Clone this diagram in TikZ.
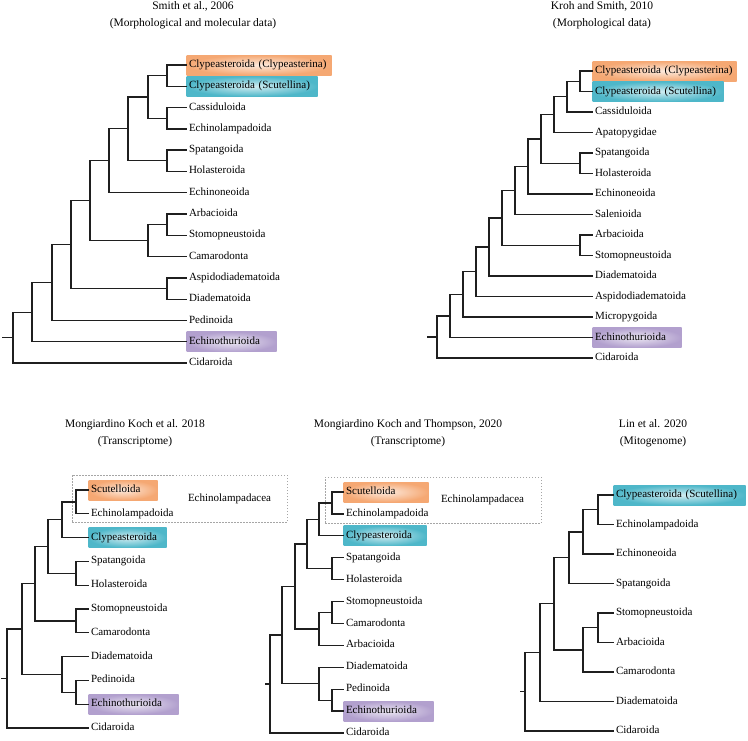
\documentclass[tikz,border=0pt]{standalone}
\usepackage{fontspec}
\setmainfont{Liberation Serif}
\usepackage{xcolor}

\definecolor{clypOrange}{RGB}{245,168,115}
\definecolor{scutBlue}{RGB}{78,183,201}
\definecolor{echiPurple}{RGB}{178,160,206}

\begin{document}
\begin{tikzpicture}[
        x=1pt, y=-1pt,
        leaf/.style={anchor=west, inner xsep=2.5pt, inner ysep=0pt, outer sep=0pt, text height=7.5pt, text depth=2.5pt, font=\fontsize{11}{13}\selectfont},
        hl/.style 2 args={leaf, inner color=#1!25!white, outer color=#1, minimum height=20pt, text width=#2, align=left},
        branch/.style={draw=black!88, line width=1.25pt},
        title/.style={align=center, font=\fontsize{11.5}{16.5}\selectfont},
        clade/.style={draw=gray!70, dash pattern=on 1.5pt off 1.5pt, line width=0.5pt, inner sep=0pt},
    ]
    \useasboundingbox (0,0) rectangle (748,740);
    % Smith et al., 2006
    \node[title] (Atitle) at (193,15) {Smith et al., 2006\\(Morphological and molecular data)};
    \node[hl={clypOrange}{140pt}] (Aclyp) at (186.5,65.0) {\mbox{Clypeasteroida (Clypeasterina)}};
    \node[hl={scutBlue}{126pt}] (Ascut) at (186.5,86.3) {\mbox{Clypeasteroida (Scutellina)}};
    \node[leaf] (Acass) at (186.5,107.6) {Cassiduloida};
    \node[leaf] (Aechl) at (186.5,128.9) {Echinolampadoida};
    \node[leaf] (Aspat) at (186.5,150.1) {Spatangoida};
    \node[leaf] (Ahol) at (186.5,171.4) {Holasteroida};
    \node[leaf] (Aechn) at (186.5,192.7) {Echinoneoida};
    \node[leaf] (Aarb) at (186.5,214.0) {Arbacioida};
    \node[leaf] (Astom) at (186.5,235.3) {Stomopneustoida};
    \node[leaf] (Acam) at (186.5,256.6) {Camarodonta};
    \node[leaf] (Aasp) at (186.5,277.9) {Aspidodiadematoida};
    \node[leaf] (Adia) at (186.5,299.2) {Diadematoida};
    \node[leaf] (Aped) at (186.5,320.5) {Pedinoida};
    \node[hl={echiPurple}{85pt}] (Aecht) at (186.5,341.8) {Echinothurioida};
    \node[leaf] (Acid) at (186.5,363.0) {Cidaroida};
    \coordinate (A1) at (167,75.6); \coordinate (A2) at (167,118.3); \coordinate (A3) at (148,96.9);
    \coordinate (A4) at (167,160.8); \coordinate (A5) at (128,128.8); \coordinate (A6) at (109,160.8);
    \coordinate (A7) at (167,224.6); \coordinate (A8) at (148,240.6); \coordinate (A9) at (90,200.7);
    \coordinate (A10) at (167,288.6); \coordinate (A11) at (71,244.6); \coordinate (A12) at (52,282.6);
    \coordinate (A13) at (32,312.2); \coordinate (A14) at (13,337.6); \coordinate (A0) at (2,337.6);
    \draw[branch] (A1) |- (Aclyp); \draw[branch] (A1) |- (Ascut);
    \draw[branch] (A2) |- (Acass); \draw[branch] (A2) |- (Aechl);
    \draw[branch] (A3) |- (A1); \draw[branch] (A3) |- (A2);
    \draw[branch] (A4) |- (Aspat); \draw[branch] (A4) |- (Ahol);
    \draw[branch] (A5) |- (A3); \draw[branch] (A5) |- (A4);
    \draw[branch] (A6) |- (A5); \draw[branch] (A6) |- (Aechn);
    \draw[branch] (A7) |- (Aarb); \draw[branch] (A7) |- (Astom);
    \draw[branch] (A8) |- (A7); \draw[branch] (A8) |- (Acam);
    \draw[branch] (A9) |- (A6); \draw[branch] (A9) |- (A8);
    \draw[branch] (A10) |- (Aasp); \draw[branch] (A10) |- (Adia);
    \draw[branch] (A11) |- (A9); \draw[branch] (A11) |- (A10);
    \draw[branch] (A12) |- (A11); \draw[branch] (A12) |- (Aped);
    \draw[branch] (A13) |- (A12); \draw[branch] (A13) |- (Aecht);
    \draw[branch] (A14) |- (A13); \draw[branch] (A14) |- (Acid);
    \draw[branch] (A0) -- (A14);

    % Kroh and Smith, 2010
    \node[title] (Btitle) at (602,15) {Kroh and Smith, 2010\\(Morphological data)};
    \node[hl={clypOrange}{139pt}] (Bclyp) at (592.5,71.0) {\mbox{Clypeasteroida (Clypeasterina)}};
    \node[hl={scutBlue}{126pt}] (Bscut) at (592.5,91.5) {\mbox{Clypeasteroida (Scutellina)}};
    \node[leaf] (Bcass) at (592.5,112.0) {Cassiduloida};
    \node[leaf] (Bapat) at (592.5,132.5) {Apatopygidae};
    \node[leaf] (Bspat) at (592.5,153.0) {Spatangoida};
    \node[leaf] (Bhol) at (592.5,173.5) {Holasteroida};
    \node[leaf] (Bechn) at (592.5,194.0) {Echinoneoida};
    \node[leaf] (Bsal) at (592.5,214.5) {Salenioida};
    \node[leaf] (Barb) at (592.5,235.0) {Arbacioida};
    \node[leaf] (Bstom) at (592.5,255.5) {Stomopneustoida};
    \node[leaf] (Bdia) at (592.5,276.0) {Diadematoida};
    \node[leaf] (Basp) at (592.5,296.5) {Aspidodiadematoida};
    \node[leaf] (Bmic) at (592.5,317.0) {Micropygoida};
    \node[hl={echiPurple}{84pt}] (Becht) at (592.5,337.5) {Echinothurioida};
    \node[leaf] (Bcid) at (592.5,358.0) {Cidaroida};
    \coordinate (B1) at (580,81.25); \coordinate (B2) at (567,96.6); \coordinate (B3) at (554,114.6);
    \coordinate (B4) at (580,163.25); \coordinate (B5) at (541,138.9); \coordinate (B6) at (528,166.5);
    \coordinate (B7) at (515,190.5); \coordinate (B8) at (580,245.25); \coordinate (B9) at (502,217.9);
    \coordinate (B10) at (489,246.9); \coordinate (B11) at (476,271.7); \coordinate (B12) at (463,294.4);
    \coordinate (B13) at (450,315.9); \coordinate (B14) at (437,337.0); \coordinate (B0) at (427,337.0);
    \draw[branch] (B1) |- (Bclyp); \draw[branch] (B1) |- (Bscut);
    \draw[branch] (B2) |- (B1); \draw[branch] (B2) |- (Bcass);
    \draw[branch] (B3) |- (B2); \draw[branch] (B3) |- (Bapat);
    \draw[branch] (B4) |- (Bspat); \draw[branch] (B4) |- (Bhol);
    \draw[branch] (B5) |- (B3); \draw[branch] (B5) |- (B4);
    \draw[branch] (B6) |- (B5); \draw[branch] (B6) |- (Bechn);
    \draw[branch] (B7) |- (B6); \draw[branch] (B7) |- (Bsal);
    \draw[branch] (B8) |- (Barb); \draw[branch] (B8) |- (Bstom);
    \draw[branch] (B9) |- (B7); \draw[branch] (B9) |- (B8);
    \draw[branch] (B10) |- (B9); \draw[branch] (B10) |- (Bdia);
    \draw[branch] (B11) |- (B10); \draw[branch] (B11) |- (Basp);
    \draw[branch] (B12) |- (B11); \draw[branch] (B12) |- (Bmic);
    \draw[branch] (B13) |- (B12); \draw[branch] (B13) |- (Becht);
    \draw[branch] (B14) |- (B13); \draw[branch] (B14) |- (Bcid);
    \draw[branch] (B0) -- (B14);

    % Mongiardino Koch et al. 2018
    \node[title] (Ctitle) at (135,433) {Mongiardino Koch et al. 2018\\(Transcriptome)};
    \node[clade, minimum width=215pt, minimum height=47pt] (Cbox) at (179.5,498.5) {};
    \node[leaf] (Clab) at (185.5,499) {Echinolampadacea};
    \node[hl={clypOrange}{64pt}] (Cscu) at (88.5,490.0) {Scutelloida};
    \node[leaf] (Cechl) at (88.5,513.8) {Echinolampadoida};
    \node[hl={scutBlue}{73pt}] (Cclyp) at (88.5,537.6) {Clypeasteroida};
    \node[leaf] (Cspat) at (88.5,561.4) {Spatangoida};
    \node[leaf] (Chol) at (88.5,585.2) {Holasteroida};
    \node[leaf] (Cstom) at (88.5,609.0) {Stomopneustoida};
    \node[leaf] (Ccam) at (88.5,632.8) {Camarodonta};
    \node[leaf] (Cdia) at (88.5,656.6) {Diadematoida};
    \node[leaf] (Cped) at (88.5,680.4) {Pedinoida};
    \node[hl={echiPurple}{85pt}] (Cecht) at (88.5,704.2) {Echinothurioida};
    \node[leaf] (Ccid) at (88.5,728.0) {Cidaroida};
    \coordinate (C1) at (76,501.9); \coordinate (C2) at (62,519.75); \coordinate (C3) at (76,573.3);
    \coordinate (C4) at (48,546.5); \coordinate (C5) at (76,620.9); \coordinate (C6) at (35,583.7);
    \coordinate (C7) at (76,692.3); \coordinate (C8) at (62,674.5); \coordinate (C9) at (22,629.1);
    \coordinate (C10) at (7,678.5); \coordinate (C0) at (1,678.5);
    \draw[branch] (C1) |- (Cscu); \draw[branch] (C1) |- (Cechl);
    \draw[branch] (C2) |- (C1); \draw[branch] (C2) |- (Cclyp);
    \draw[branch] (C3) |- (Cspat); \draw[branch] (C3) |- (Chol);
    \draw[branch] (C4) |- (C2); \draw[branch] (C4) |- (C3);
    \draw[branch] (C5) |- (Cstom); \draw[branch] (C5) |- (Ccam);
    \draw[branch] (C6) |- (C4); \draw[branch] (C6) |- (C5);
    \draw[branch] (C7) |- (Cped); \draw[branch] (C7) |- (Cecht);
    \draw[branch] (C8) |- (Cdia); \draw[branch] (C8) |- (C7);
    \draw[branch] (C9) |- (C6); \draw[branch] (C9) |- (C8);
    \draw[branch] (C10) |- (C9); \draw[branch] (C10) |- (Ccid);
    \draw[branch] (C0) -- (C10);

    % Mongiardino Koch and Thompson, 2020
    \node[title] (Dtitle) at (408,433) {Mongiardino Koch and Thompson, 2020\\(Transcriptome)};
    \node[clade, minimum width=216pt, minimum height=46pt] (Dbox) at (433,500) {};
    \node[leaf] (Dlab) at (438.5,500) {Echinolampadacea};
    \node[hl={clypOrange}{80pt}] (Dscu) at (343.5,492.0) {Scutelloida};
    \node[leaf] (Dechl) at (343.5,513.9) {Echinolampadoida};
    \node[hl={scutBlue}{78pt}] (Dclyp) at (343.5,535.8) {Clypeasteroida};
    \node[leaf] (Dspat) at (343.5,557.7) {Spatangoida};
    \node[leaf] (Dhol) at (343.5,579.6) {Holasteroida};
    \node[leaf] (Dstom) at (343.5,601.5) {Stomopneustoida};
    \node[leaf] (Dcam) at (343.5,623.5) {Camarodonta};
    \node[leaf] (Darb) at (343.5,645.4) {Arbacioida};
    \node[leaf] (Ddia) at (343.5,667.3) {Diadematoida};
    \node[leaf] (Dped) at (343.5,689.2) {Pedinoida};
    \node[hl={echiPurple}{85pt}] (Decht) at (343.5,711.1) {Echinothurioida};
    \node[leaf] (Dcid) at (343.5,733.0) {Cidaroida};
    \coordinate (D1) at (332,503); \coordinate (D2) at (319,519.4); \coordinate (D3) at (332,568.7);
    \coordinate (D4) at (307,544); \coordinate (D5) at (332,612.5); \coordinate (D6) at (319,628.9);
    \coordinate (D7) at (295,586.5); \coordinate (D8) at (332,700.2); \coordinate (D9) at (319,683.7);
    \coordinate (D10) at (282,635.1); \coordinate (D11) at (270,684); \coordinate (D0) at (265,684);
    \draw[branch] (D1) |- (Dscu); \draw[branch] (D1) |- (Dechl);
    \draw[branch] (D2) |- (D1); \draw[branch] (D2) |- (Dclyp);
    \draw[branch] (D3) |- (Dspat); \draw[branch] (D3) |- (Dhol);
    \draw[branch] (D4) |- (D2); \draw[branch] (D4) |- (D3);
    \draw[branch] (D5) |- (Dstom); \draw[branch] (D5) |- (Dcam);
    \draw[branch] (D6) |- (D5); \draw[branch] (D6) |- (Darb);
    \draw[branch] (D7) |- (D4); \draw[branch] (D7) |- (D6);
    \draw[branch] (D8) |- (Dped); \draw[branch] (D8) |- (Decht);
    \draw[branch] (D9) |- (Ddia); \draw[branch] (D9) |- (D8);
    \draw[branch] (D10) |- (D7); \draw[branch] (D10) |- (D9);
    \draw[branch] (D11) |- (D10); \draw[branch] (D11) |- (Dcid);
    \draw[branch] (D0) -- (D11);

    % Lin et al. 2020
    \node[title] (Etitle) at (653,433) {Lin et al. 2020\\(Mitogenome)};
    \node[hl={scutBlue}{127pt}] (Eclyp) at (613.5,495.0) {\mbox{Clypeasteroida (Scutellina)}};
    \node[leaf] (Eechl) at (613.5,524.5) {Echinolampadoida};
    \node[leaf] (Eechn) at (613.5,554.0) {Echinoneoida};
    \node[leaf] (Espat) at (613.5,583.5) {Spatangoida};
    \node[leaf] (Estom) at (613.5,613.0) {Stomopneustoida};
    \node[leaf] (Earb) at (613.5,642.5) {Arbacioida};
    \node[leaf] (Ecam) at (613.5,672.0) {Camarodonta};
    \node[leaf] (Edia) at (613.5,701.5) {Diadematoida};
    \node[leaf] (Ecid) at (613.5,731.0) {Cidaroida};
    \coordinate (E1) at (598,509.75); \coordinate (E2) at (583,531.9); \coordinate (E3) at (569,557.7);
    \coordinate (E4) at (598,627.75); \coordinate (E5) at (583,649.9); \coordinate (E6) at (554,603.8);
    \coordinate (E7) at (540,652.6); \coordinate (E8) at (525,691.8); \coordinate (E0) at (520,691.8);
    \draw[branch] (E1) |- (Eclyp); \draw[branch] (E1) |- (Eechl);
    \draw[branch] (E2) |- (E1); \draw[branch] (E2) |- (Eechn);
    \draw[branch] (E3) |- (E2); \draw[branch] (E3) |- (Espat);
    \draw[branch] (E4) |- (Estom); \draw[branch] (E4) |- (Earb);
    \draw[branch] (E5) |- (E4); \draw[branch] (E5) |- (Ecam);
    \draw[branch] (E6) |- (E3); \draw[branch] (E6) |- (E5);
    \draw[branch] (E7) |- (E6); \draw[branch] (E7) |- (Edia);
    \draw[branch] (E8) |- (E7); \draw[branch] (E8) |- (Ecid);
    \draw[branch] (E0) -- (E8);
\end{tikzpicture}
\end{document}
